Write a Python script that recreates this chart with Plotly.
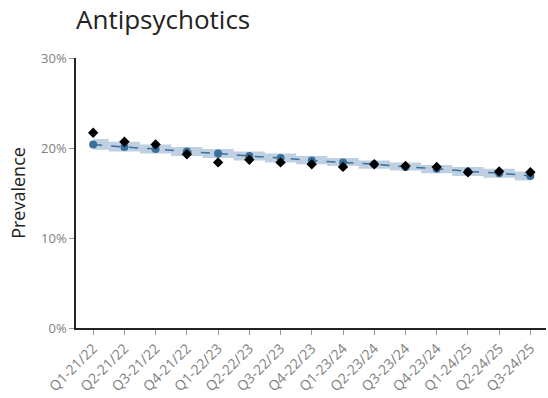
import plotly.graph_objects as go

quarters = ["Q1-21/22","Q2-21/22","Q3-21/22","Q4-21/22","Q1-22/23","Q2-22/23","Q3-22/23",
            "Q4-22/23","Q1-23/24","Q2-23/24","Q3-23/24","Q4-23/24","Q1-24/25","Q2-24/25","Q3-24/25"]
observed = [0.217,0.207,0.204,0.193,0.184,0.187,0.184,0.182,0.179,0.182,0.180,0.179,0.173,0.174,0.173]
fitted   = [0.204,0.201,0.199,0.196,0.194,0.191,0.189,0.186,0.184,0.182,0.179,0.177,0.174,0.172,0.169]
lower    = [0.198,0.196,0.194,0.191,0.189,0.186,0.184,0.182,0.180,0.177,0.175,0.172,0.169,0.167,0.164]
upper    = [0.210,0.207,0.204,0.201,0.199,0.196,0.194,0.191,0.189,0.186,0.184,0.181,0.179,0.177,0.174]

fig = go.Figure()
fig.add_trace(go.Scatter(x=quarters, y=upper, mode="lines", line=dict(width=0, shape="hvh"),
                         showlegend=False, hoverinfo="skip"))
fig.add_trace(go.Scatter(x=quarters, y=lower, mode="lines", line=dict(width=0, shape="hvh"),
                         fill="tonexty", fillcolor="rgba(70,120,170,0.35)", showlegend=False, hoverinfo="skip"))
fig.add_trace(go.Scatter(x=quarters, y=fitted, mode="lines+markers",
                         line=dict(color="#3b6f9c", width=1.5, dash="dash"),
                         marker=dict(color="#3b6f9c", size=8), showlegend=False))
fig.add_trace(go.Scatter(x=quarters, y=observed, mode="markers",
                         marker=dict(color="black", symbol="diamond", size=8), showlegend=False))

fig.update_layout(
    width=548, height=398,
    margin=dict(l=76, r=2, t=58, b=70),
    paper_bgcolor="white", plot_bgcolor="white",
    font=dict(family="Open Sans", color="#444"),
    title=dict(text="Antipsychotics", x=0, xref="paper", xanchor="left", y=0.972, yanchor="top",
               font=dict(size=26, color="#222")),
    xaxis=dict(tickangle=-45, showline=True, linecolor="#222", linewidth=1.5, ticks="outside",
               ticklen=5, tickcolor="#999", tickfont=dict(size=14, color="#808080"), showgrid=False,
               range=[-0.55, 14.5], automargin=False),
    yaxis=dict(range=[0, 0.3], tickformat=".0%", tickvals=[0, 0.1, 0.2, 0.3], showline=True,
               linecolor="#222", linewidth=1.5, ticks="outside", ticklen=5, tickcolor="#999",
               tickfont=dict(size=13, color="#808080"), showgrid=False, zeroline=False, automargin=False,
               title=dict(text="Prevalence", font=dict(size=18, color="#222"), standoff=11)),
)
fig.write_html("out.html")
